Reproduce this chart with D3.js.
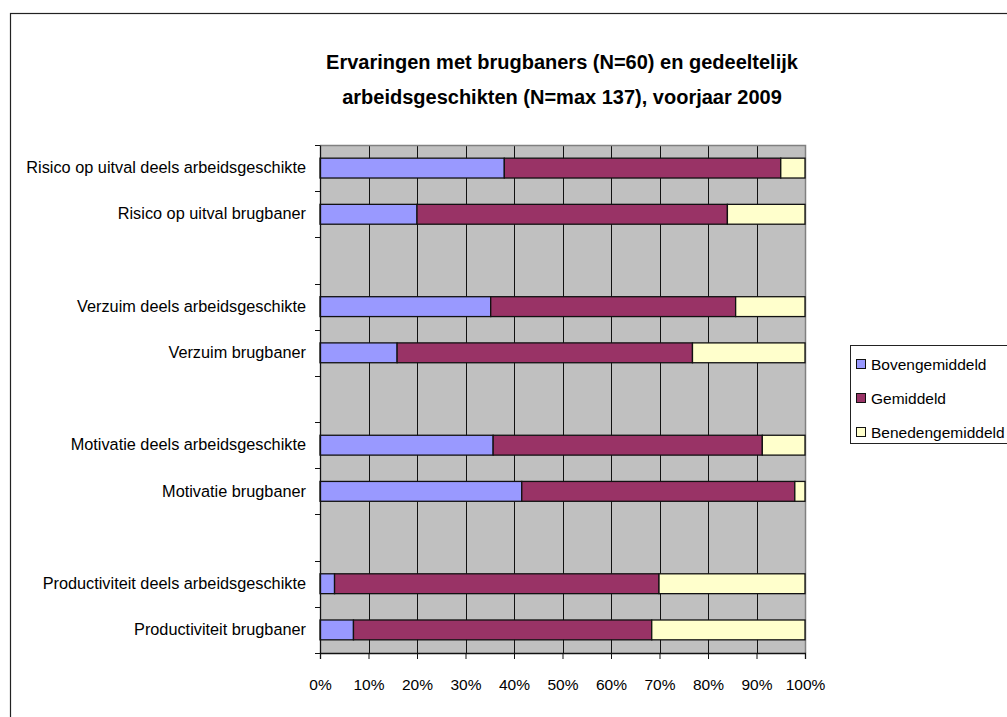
<!DOCTYPE html>
<html><head><meta charset="utf-8">
<script src="https://cdn.jsdelivr.net/npm/d3@7"></script>
<style>body{margin:0;background:#fff}svg{display:block;font-family:"Liberation Sans",Arial,sans-serif}</style>
</head><body><svg id="c" width="1007" height="717"></svg>
<script>
const categories = [
  "Risico op uitval deels arbeidsgeschikte",
  "Risico op uitval brugbaner",
  "",
  "Verzuim deels arbeidsgeschikte",
  "Verzuim brugbaner",
  " ",
  "Motivatie deels arbeidsgeschikte",
  "Motivatie brugbaner",
  "  ",
  "Productiviteit deels arbeidsgeschikte",
  "Productiviteit brugbaner"
];
const seriesNames = ["Bovengemiddeld", "Gemiddeld", "Benedengemiddeld"];
const bovengemiddeld = [38, 20, null, 35.2, 15.9, null, 35.7, 41.6, null, 3.0, 6.9];
const gemiddeld      = [57, 64, null, 50.5, 60.9, null, 55.5, 56.3, null, 66.9, 61.5];
const benedengemiddeld = [5, 16, null, 14.3, 23.2, null, 8.8, 2.1, null, 30.1, 31.6];
const colors = ["#9999ff", "#993366", "#ffffcc"];
const xTicks = [0,10,20,30,40,50,60,70,80,90,100];
const titleLines = ["Ervaringen met brugbaners (N=60) en gedeeltelijk", "arbeidsgeschikten (N=max 137), voorjaar 2009"];

const svg = d3.select("#c");
const L = 320, R = 805, T = 145, B = 653;

// outer border
svg.append("rect").attr("x",10.5).attr("y",13.5).attr("width",1010).attr("height",720)
  .attr("fill","none").attr("stroke","#222").attr("stroke-width",1.2);

// title
svg.append("text").attr("x",562).attr("y",69).attr("text-anchor","middle")
  .style("font-weight","bold").style("font-size","20px")
  .selectAll("tspan").data(titleLines).join("tspan")
  .attr("x",562).attr("dy",(d,i)=>i===0?0:35).text(d=>d);

const x = d3.scaleLinear().domain([0,100]).range([L,R]);
const y = d3.scaleBand().domain(categories).range([T,B]).paddingInner(0.57).paddingOuter(0.285);
const yb = d3.scaleBand().domain(categories).range([T,B]);

// plot background
svg.append("rect").attr("x",L).attr("y",T).attr("width",R-L).attr("height",B-T).attr("fill","#c0c0c0");
// gridlines
svg.append("g").selectAll("line").data(xTicks.filter(d=>d>0 && d<100)).join("line")
  .attr("x1",d=>Math.round(x(d))+0.5).attr("x2",d=>Math.round(x(d))+0.5).attr("y1",T).attr("y2",B)
  .attr("stroke","#111").attr("stroke-width",1);
// plot border (top/right)
svg.append("path").attr("d",`M${L},${T+0.5}H${R+0.5}V${B}`).attr("fill","none").attr("stroke","#808080").attr("stroke-width",1.5);

// stacked bars
const rows = categories.map((c,i)=>({cat:c, vals:[bovengemiddeld[i],gemiddeld[i],benedengemiddeld[i]]})).filter(r=>r.vals[0]!==null);
const gBars = svg.append("g");
rows.forEach(r=>{
  let acc = 0;
  r.vals.forEach((v,k)=>{
    gBars.append("rect").attr("x",x(acc)).attr("y",y(r.cat)).attr("width",x(acc+v)-x(acc)).attr("height",y.bandwidth())
      .attr("fill",colors[k]).attr("stroke","#111").attr("stroke-width",1.3);
    acc += v;
  });
});

// y axis
const yAxis = d3.axisLeft(yb).tickSize(0).tickPadding(14);
const gy = svg.append("g").attr("transform",`translate(${L},0)`).call(yAxis);
gy.select(".domain").attr("stroke","#111").attr("stroke-width",1.3);
gy.selectAll("text").style("font-size","16.3px").attr("fill","#000").attr("font-family","Liberation Sans, Arial, sans-serif");
// y tick marks at band boundaries
svg.append("g").selectAll("line").data(d3.range(0,categories.length+1)).join("line")
  .attr("x1",L-5).attr("x2",L).attr("y1",i=>Math.round(T+i*yb.step())+0.5).attr("y2",i=>Math.round(T+i*yb.step())+0.5)
  .attr("stroke","#111");

// x axis
const xAxis = d3.axisBottom(x).tickValues(xTicks).tickFormat(d=>d+"%").tickSize(6).tickPadding(20);
const gx = svg.append("g").attr("transform",`translate(0,${B})`).call(xAxis);
gx.select(".domain").attr("stroke","#111").attr("stroke-width",1.3);
gx.selectAll(".tick line").attr("stroke","#111");
gx.selectAll("text").style("font-size","15.5px").attr("fill","#000").attr("font-family","Liberation Sans, Arial, sans-serif");

// legend
const lg = svg.append("g");
lg.append("rect").attr("x",850.5).attr("y",345.5).attr("width",170).attr("height",98).attr("fill","#fff").attr("stroke","#222");
seriesNames.forEach((n,i)=>{
  const cy = 364 + i*34;
  lg.append("rect").attr("x",856.5).attr("y",cy-4.5).attr("width",9).attr("height",9).attr("fill",colors[i]).attr("stroke","#111");
  lg.append("text").attr("x",871).attr("y",cy+5.5).style("font-size","15.5px").text(n);
});
</script></body></html>
